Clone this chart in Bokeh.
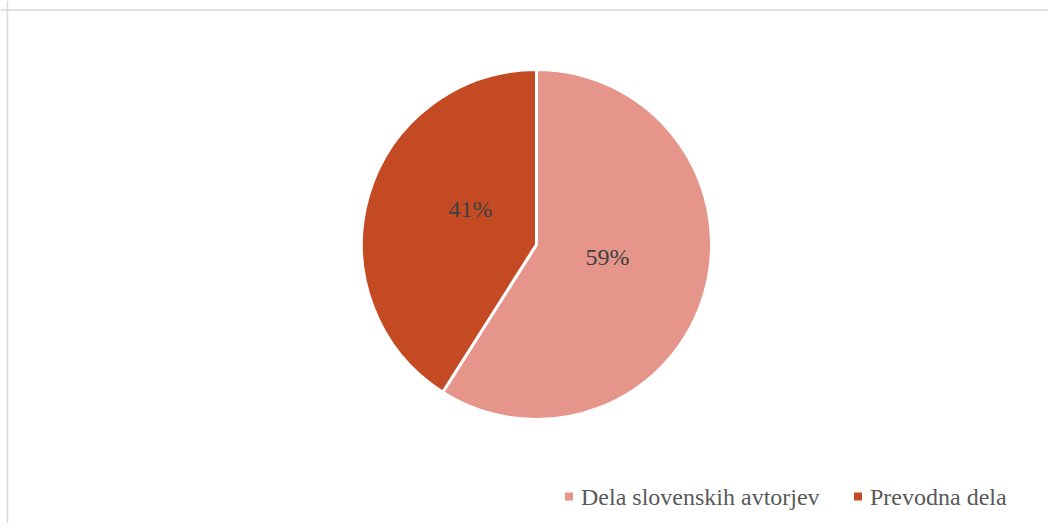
import numpy as np
from bokeh.plotting import figure
from bokeh.models import Range1d, Span
from bokeh.core.properties import value
from bokeh.embed import file_html
from bokeh.resources import INLINE

categories = ["Dela slovenskih avtorjev", "Prevodna dela"]
shares = [59, 41]
colors = ["#E6958A", "#C44A23"]
pct_labels = ["59%", "41%"]

W, H = 1048, 523
p = figure(width=W, height=H, output_backend="svg", toolbar_location=None,
           x_range=Range1d(0, W), y_range=Range1d(0, H), min_border=0)
p.axis.visible = False
p.grid.visible = False
p.outline_line_color = None
p.background_fill_color = "white"

# chart frame (top and left edges visible in reference)
p.add_layout(Span(location=H - 9.5, dimension="width", line_color="#D9D9D9", line_width=1.5))
p.add_layout(Span(location=7, dimension="height", line_color="#D9D9D9", line_width=1.5))

cx, cy, R = 536, 279, 175
frac = np.array(shares, dtype=float) / sum(shares)
cum = np.concatenate([[0], np.cumsum(frac)])
start = np.pi / 2 - 2 * np.pi * cum[:-1]
end = np.pi / 2 - 2 * np.pi * cum[1:]

p.wedge(x=cx, y=cy, radius=R, start_angle=start, end_angle=end, direction="clock",
        fill_color=colors, line_color="white", line_width=3)

# data labels
label_x = [607, 470]
label_y = [267, 315]
p.text(x=label_x, y=label_y, text=pct_labels, text_font=value("Liberation Serif"),
       text_font_size="24px", text_color="#404040", text_align="center",
       text_baseline="middle")

# legend
leg_mx = [568.5, 857.5]
leg_y = [27, 27]
p.scatter(x=leg_mx, y=leg_y, marker="square", size=8, fill_color=colors, line_color=None)
p.text(x=[m + 12 for m in leg_mx], y=leg_y, text=categories,
       text_font=value("Liberation Serif"), text_font_size="24px",
       text_color="#595959", text_align="left", text_baseline="middle")

open("out.html", "w").write(file_html(p, INLINE))
